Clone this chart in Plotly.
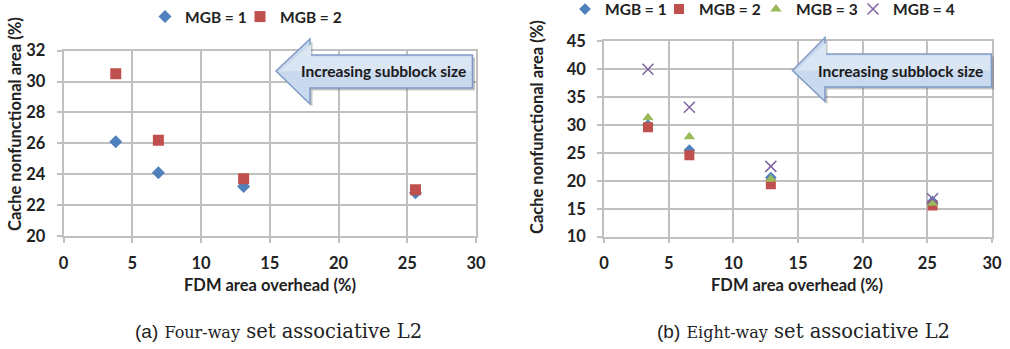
import plotly.graph_objects as go

# ---- data -------------------------------------------------------------
# (a) four-way set associative L2
fdm_a = [3.8, 6.9, 13.1, 25.6]
mgb1_a = [26.1, 24.1, 23.2, 22.8]
mgb2_a = [30.5, 26.2, 23.7, 23.0]

# (b) eight-way set associative L2
fdm_b = [3.4, 6.6, 12.9, 25.4]
mgb1_b = [30.0, 25.5, 20.6, 16.3]
mgb2_b = [29.6, 24.6, 19.4, 15.6]
mgb3_b = [31.3, 27.9, 20.3, 16.0]
mgb4_b = [40.0, 33.2, 22.6, 16.8]

xticks = [0, 5, 10, 15, 20, 25, 30]
yticks_a = [20, 22, 24, 26, 28, 30, 32]
yticks_b = [10, 15, 20, 25, 30, 35, 40, 45]

W, H = 1010, 349
BLUE, RED, GREEN, PURPLE = "#4F81BD", "#C0504D", "#9BBB59", "#8064A2"
GRID = "#c0c0c0"
FONT = "Lato"


def px(x):
    return x / W


def py(y):
    return 1 - y / H


fig = go.Figure()

# panel (a)
fig.add_trace(go.Scatter(x=fdm_a, y=mgb1_a, mode="markers", name="MGB = 1",
                         marker=dict(symbol="diamond", size=10, color=BLUE),
                         xaxis="x", yaxis="y", legend="legend"))
fig.add_trace(go.Scatter(x=fdm_a, y=mgb2_a, mode="markers", name="MGB = 2",
                         marker=dict(symbol="square", size=11, color=RED),
                         xaxis="x", yaxis="y", legend="legend2"))

# panel (b)
fig.add_trace(go.Scatter(x=fdm_b, y=mgb1_b, mode="markers", name="MGB = 1",
                         marker=dict(symbol="diamond", size=9, color=BLUE),
                         xaxis="x2", yaxis="y2", legend="legend3"))
fig.add_trace(go.Scatter(x=fdm_b, y=mgb2_b, mode="markers", name="MGB = 2",
                         marker=dict(symbol="square", size=10, color=RED),
                         xaxis="x2", yaxis="y2", legend="legend4"))
fig.add_trace(go.Scatter(x=fdm_b, y=mgb3_b, mode="markers", name="MGB = 3",
                         marker=dict(symbol="triangle-up", size=10, color=GREEN),
                         xaxis="x2", yaxis="y2", legend="legend5"))
fig.add_trace(go.Scatter(x=fdm_b, y=mgb4_b, mode="markers", name="MGB = 4",
                         marker=dict(symbol="x-thin", size=11, color=PURPLE,
                                     line=dict(width=1.5, color=PURPLE)),
                         xaxis="x2", yaxis="y2", legend="legend6"))

tickfont = dict(family=FONT, size=16.5, color="#222222", weight="bold")
common_x = dict(range=[0, 30], tickvals=xticks, showgrid=True, gridcolor=GRID,
                gridwidth=1.5, ticks="outside", ticklen=5, tickcolor=GRID,
                tickwidth=1.5, showline=True, linecolor=GRID, linewidth=1.5,
                mirror=True, zeroline=False, tickfont=tickfont,
                ticklabelstandoff=6, fixedrange=True)
common_y = dict(showgrid=True, gridcolor=GRID, gridwidth=1.5, ticks="outside",
                ticklen=5, tickcolor=GRID, tickwidth=1.5, showline=True,
                linecolor=GRID, linewidth=1.5, mirror=True, zeroline=False,
                tickfont=tickfont, ticklabelstandoff=8, fixedrange=True)

legend_font = dict(family=FONT, size=15.5, color="#222222", weight="bold")


def legend_at(x_px, y_px):
    return dict(orientation="h", x=px(x_px), y=py(y_px), yanchor="middle",
                xanchor="left", font=legend_font, itemwidth=30,
                bgcolor="rgba(0,0,0,0)")


fig.update_layout(
    width=W, height=H,
    margin=dict(l=0, r=0, t=0, b=0, autoexpand=False),
    paper_bgcolor="white", plot_bgcolor="white",
    xaxis=dict(domain=[px(63.5), px(476)], anchor="y", **common_x),
    yaxis=dict(domain=[py(236), py(50.7)], anchor="x", range=[20, 32],
               tickvals=yticks_a, **common_y),
    xaxis2=dict(domain=[px(604), px(992)], anchor="y2", **common_x),
    yaxis2=dict(domain=[py(236.7), py(41.3)], anchor="x2", range=[10, 45],
                tickvals=yticks_b, **common_y),
    # one legend per entry so each key sits where it belongs
    legend=legend_at(145, 17),
    legend2=legend_at(240, 17),
    legend3=legend_at(565, 9.5),
    legend4=legend_at(659, 9.5),
    legend5=legend_at(756, 9.5),
    legend6=legend_at(853, 9.5),
    showlegend=True,
)

# axis titles
title_font = dict(family=FONT, size=16.5, color="#222222", weight="bold")
for xc, yc, ang, txt in [
    (270, 285, 0, "FDM area overhead (%)"),
    (797, 285, 0, "FDM area overhead (%)"),
    (15, 124, -90, "Cache nonfunctional area (%)"),
    (537, 127, -90, "Cache nonfunctional area (%)"),
]:
    fig.add_annotation(x=px(xc), y=py(yc), xref="paper", yref="paper",
                       text=txt, showarrow=False, textangle=ang,
                       font=title_font, xanchor="center", yanchor="middle")


# "Increasing subblock size" arrows
def arrow_path(tip_x, tip_y, head_x, head_top, head_bot, body_top, body_bot, right):
    pts = [(tip_x, tip_y), (head_x, head_top), (head_x, body_top),
           (right, body_top), (right, body_bot), (head_x, body_bot),
           (head_x, head_bot)]
    return "M " + " L ".join(f"{px(a):.5f},{py(b):.5f}" for a, b in pts) + " Z"


arrows = [
    dict(tip_x=276, tip_y=71, head_x=310, head_top=39, head_bot=104,
         body_top=55, body_bot=88, right=472.5, text_x=383),
    dict(tip_x=792.5, tip_y=70.5, head_x=825, head_top=37.5, head_bot=101.5,
         body_top=54, body_bot=87, right=991.5, text_x=900.5),
]
for a in arrows:
    geo = {k: a[k] for k in ["tip_x", "tip_y", "head_x", "head_top", "head_bot",
                             "body_top", "body_bot", "right"]}
    shadow = {k: (v + 2.5) for k, v in geo.items()}
    fig.add_shape(type="path", path=arrow_path(**shadow), xref="paper", yref="paper",
                  fillcolor="rgba(90,90,90,0.35)", line=dict(width=0))
    fig.add_shape(type="path", path=arrow_path(**geo), xref="paper", yref="paper",
                  fillcolor="#c9d9ee", line=dict(color="#7f9bc6", width=1.5))
    # lighter upper half suggests the gradient fill
    fig.add_shape(type="path",
                  path=arrow_path(a["tip_x"] + 4, a["tip_y"],
                                  a["head_x"] + 1, a["head_top"] + 5,
                                  a["tip_y"], a["body_top"] + 1.5,
                                  a["tip_y"], a["right"] - 1.5),
                  xref="paper", yref="paper", fillcolor="#dbe6f4",
                  line=dict(width=0))
    fig.add_annotation(x=px(a["text_x"]), y=py(a["tip_y"]), xref="paper", yref="paper",
                       text="Increasing subblock size", showarrow=False,
                       font=dict(family=FONT, size=15.5, color="#1a1a1a", weight="bold"),
                       xanchor="center", yanchor="middle")

# panel captions
for xc, label, small in [(133, "(a)", "Four-way"), (655, "(b)", "Eight-way")]:
    fig.add_annotation(
        x=px(xc), y=py(331), xref="paper", yref="paper", showarrow=False,
        xanchor="left", yanchor="middle",
        text=(f'<span style="font-family:Liberation Sans;font-size:19px">{label}</span> '
              f'<span style="font-size:16px">{small}</span> set associative L2'),
        font=dict(family="DejaVu Serif", size=19.5, color="#222222"),
    )

fig.write_html("out.html")
